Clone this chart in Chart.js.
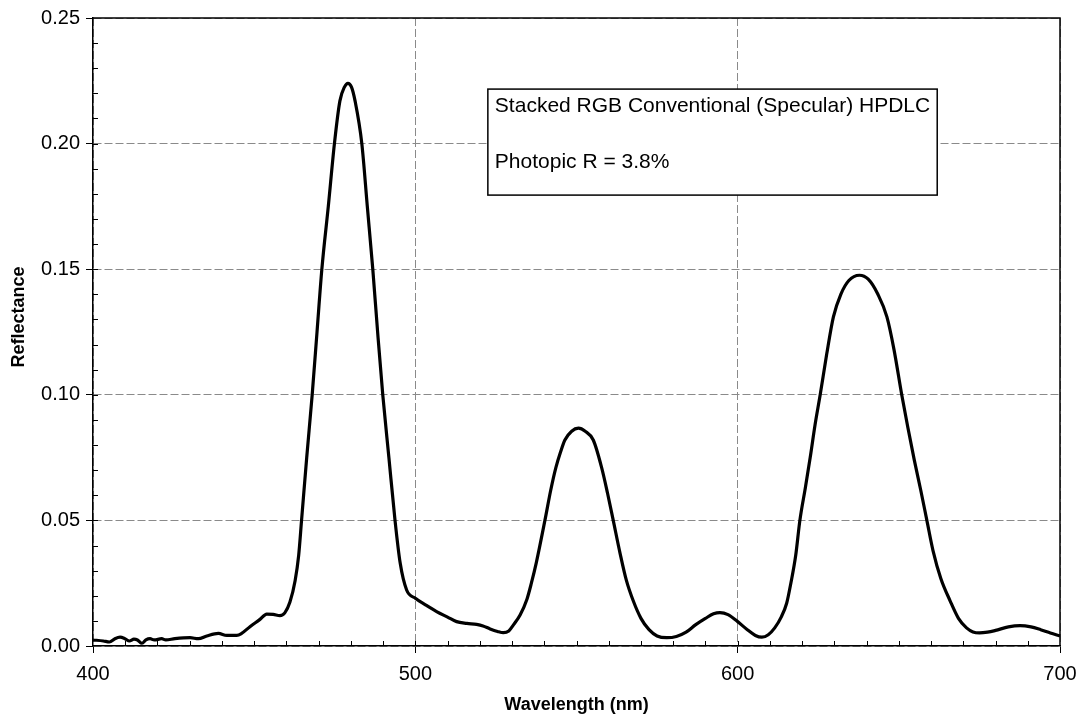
<html>
<head>
<style>
  body { margin: 0; background: #fff; }
  #wrap { width: 1079px; height: 719px; position: relative; }
</style>
</head>
<body>
<script src="https://cdn.jsdelivr.net/npm/chart.js@4/dist/chart.umd.min.js"></script>
<div id="wrap"><canvas id="myChart"></canvas></div>
<script>
// reflectance spectrum, wavelength in nm
const wavelength = [
  400, 403.2, 405.1, 406.8, 408.4, 409.9, 411.3, 412.7, 413.8, 415.2,
  416.4, 417.7, 419.0, 421.3, 422.6, 425.4, 430.1, 432.7, 435.3, 438.9,
  441.5, 444.6, 446.1, 448.7, 451.8, 453.9, 455.9, 458.0, 459.5, 461.1,
  462.7, 463.8, 464.7, 466.3, 468.0, 469.5, 471.0, 473.0, 474.9, 476.6,
  478.0, 479.1, 480.2, 481.3, 483.4, 485.1, 486.8, 488.3, 489.9, 491.8,
  493.7, 495.3, 497.3, 500.0, 503.0, 506.6, 510.0, 512.8, 516.0, 519.0,
  521.0, 523.2, 525.5, 527.3, 529.0, 530.5, 532.5, 534.6, 536.0, 537.5,
  540.2, 542.0, 543.6, 545.0, 546.4, 548.5, 550.6, 552.7, 555.2, 557.8,
  559.6, 561.4, 563.5, 565.5, 567.6, 570.0, 572.5, 575.0, 578.0, 581.0,
  584.0, 587.0, 590.0, 592.5, 594.5, 597.0, 600.0, 603.0, 605.5, 607.5,
  609.5, 611.5, 613.5, 615.2, 616.5, 618.0, 619.3, 621.0, 622.5, 624.0,
  625.6, 627.6, 629.7, 632.0, 634.5, 637.8, 640.5, 643.5, 646.3, 648.5,
  650.9, 652.8, 654.8, 656.8, 658.7, 660.6, 663.0, 665.9, 668.5, 671.0,
  673.0, 675.0, 677.5, 680.0, 684.0, 687.6, 691.0, 694.0, 697.0, 700.0
];
const reflectance = [
  0.0024, 0.0020, 0.0016, 0.0029, 0.0035, 0.0029, 0.0020, 0.0027, 0.0024, 0.0011,
  0.0024, 0.0029, 0.0024, 0.0029, 0.0024, 0.0029, 0.0033, 0.0029, 0.0040, 0.0050,
  0.0042, 0.0042, 0.0050, 0.0077, 0.0106, 0.0127, 0.0126, 0.0121, 0.0132, 0.0175,
  0.0260, 0.0360, 0.0500, 0.0750, 0.1000, 0.1250, 0.1500, 0.1750, 0.2000, 0.2170,
  0.2225, 0.2240, 0.2225, 0.2170, 0.2000, 0.1750, 0.1500, 0.1250, 0.1000, 0.0750,
  0.0500, 0.0330, 0.0223, 0.0190, 0.0165, 0.0137, 0.0115, 0.0097, 0.0090, 0.0086,
  0.0080, 0.0068, 0.0058, 0.0053, 0.0060, 0.0085, 0.0123, 0.0185, 0.0250, 0.0330,
  0.0500, 0.0620, 0.0710, 0.0770, 0.0820, 0.0855, 0.0867, 0.0855, 0.0820, 0.0710,
  0.0610, 0.0500, 0.0370, 0.0260, 0.0180, 0.0110, 0.0065, 0.0040, 0.0033, 0.0038,
  0.0055, 0.0085, 0.0110, 0.0128, 0.0133, 0.0125, 0.0097, 0.0065, 0.0042, 0.0035,
  0.0045, 0.0072, 0.0115, 0.0170, 0.0250, 0.0360, 0.0500, 0.0630, 0.0750, 0.0880,
  0.1000, 0.1160, 0.1310, 0.1400, 0.1455, 0.1476, 0.1460, 0.1400, 0.1310, 0.1180,
  0.1000, 0.0870, 0.0740, 0.0620, 0.0500, 0.0380, 0.0270, 0.0180, 0.0110, 0.0072,
  0.0056, 0.0052, 0.0055, 0.0062, 0.0076, 0.0081, 0.0076, 0.0065, 0.0052, 0.0040
];

const noteLines = ['Stacked RGB Conventional (Specular) HPDLC', 'Photopic R = 3.8%'];
const yTitle = 'Reflectance';

Chart.defaults.font.family = '"Liberation Sans", Arial, sans-serif';
Chart.defaults.color = '#000';

// inward minor ticks, top/right frame, y title and the text box
const extras = {
  id: 'extras',
  afterDraw(chart) {
    const c = chart.ctx, a = chart.chartArea;
    const xs = chart.scales.x, ys = chart.scales.y;
    c.save();
    c.strokeStyle = '#000';
    c.lineWidth = 1;
    for (let v = 0.01; v < 0.25; v += 0.01) {
      const py = Math.round(ys.getPixelForValue(v)) + 0.5;
      c.beginPath(); c.moveTo(a.left, py); c.lineTo(a.left + 5, py); c.stroke();
    }
    for (let w = 410; w < 700; w += 10) {
      const px = Math.round(xs.getPixelForValue(w)) + 0.5;
      c.beginPath(); c.moveTo(px, a.bottom); c.lineTo(px, a.bottom - 5); c.stroke();
    }
    c.lineWidth = 1.5;
    c.beginPath();
    c.moveTo(a.left, a.top); c.lineTo(a.right, a.top); c.lineTo(a.right, a.bottom);
    c.stroke();

    // rotated y axis title, sitting a little above the middle
    c.save();
    c.translate(19, ys.getPixelForValue(0.131));
    c.rotate(-Math.PI / 2);
    c.font = 'bold 18px "Liberation Sans", Arial, sans-serif';
    c.textAlign = 'center';
    c.textBaseline = 'middle';
    c.fillStyle = '#000';
    c.fillText(yTitle, 0, 0);
    c.restore();

    // annotation box
    c.font = '21px "Liberation Sans", Arial, sans-serif';
    const bx = xs.getPixelForValue(522.5), by = ys.getPixelForValue(0.2217);
    const bb = ys.getPixelForValue(0.1795);
    const bw = Math.max(...noteLines.map(t => c.measureText(t).width)) + 14;
    c.fillStyle = '#fff';
    c.fillRect(bx, by, bw, bb - by);
    c.strokeRect(bx, by, bw, bb - by);
    c.fillStyle = '#000';
    c.textBaseline = 'alphabetic';
    c.fillText(noteLines[0], bx + 7, by + 23);
    c.fillText(noteLines[1], bx + 7, by + 79);
    c.restore();
  }
};

const ctx = document.getElementById('myChart').getContext('2d');
const myChart = new Chart(ctx, {
  type: 'line',
  data: {
    datasets: [{
      data: wavelength.map((w, i) => ({ x: w, y: reflectance[i] })),
      borderColor: '#000',
      borderWidth: 3.2,
      pointRadius: 0,
      fill: false,
      cubicInterpolationMode: 'monotone'
    }]
  },
  options: {
    responsive: true,
    maintainAspectRatio: false,
    animation: false,
    layout: { padding: { left: 0, right: 19, top: 18, bottom: 0 } },
    plugins: { legend: { display: false }, tooltip: { enabled: false } },
    scales: {
      x: {
        type: 'linear',
        min: 400, max: 700,
        afterFit(scale) {
          scale.height = 73;
          scale.paddingLeft = 0;
          scale.paddingRight = 0;
        },
        ticks: { stepSize: 100, padding: 9, font: { size: 20 }, color: '#000' },
        grid: { color: '#8a8a8a', lineWidth: 1, tickLength: 7, tickColor: '#000' },
        border: { color: '#000', width: 1.5, dash: [8, 3] },
        title: { display: true, text: 'Wavelength (nm)', font: { size: 18, weight: 'bold' }, padding: { top: 4, bottom: 3 } }
      },
      y: {
        min: 0, max: 0.25,
        afterFit(scale) { scale.width = 93; },
        ticks: { stepSize: 0.05, padding: 6, font: { size: 20 }, color: '#000', callback: v => v.toFixed(2) },
        grid: { color: '#8a8a8a', lineWidth: 1, tickLength: 7, tickColor: '#000' },
        border: { color: '#000', width: 1.5, dash: [8, 3] }
      }
    }
  },
  plugins: [extras]
});
</script>
</body>
</html>
